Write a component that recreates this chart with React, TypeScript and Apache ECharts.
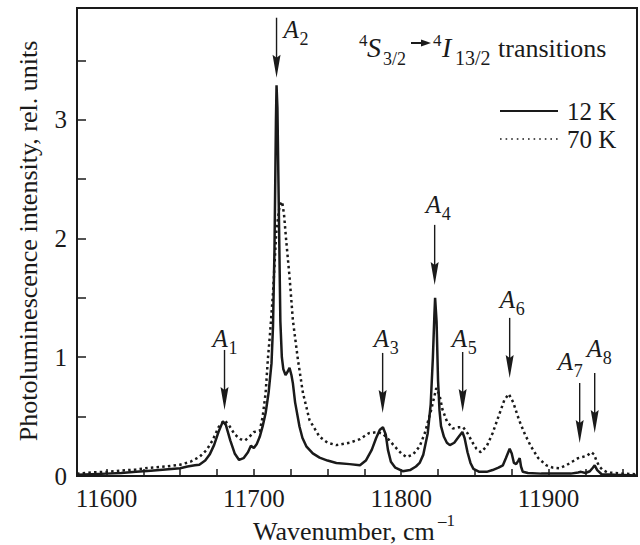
import React, { useEffect, useRef } from 'react';
import * as echarts from 'echarts';

// 12 K spectrum (solid)
const wn12 = [
  11580, 11590, 11600, 11610, 11620, 11630, 11640, 11650, 11655, 11660, 11663, 11667, 11670, 11673, 11676, 11679,
  11681, 11684, 11687, 11690, 11693, 11696, 11698, 11700, 11702, 11704, 11706, 11708, 11710, 11712, 11713, 11714,
  11715, 11715.4, 11716, 11717, 11718, 11719, 11720, 11721.5, 11723, 11724.2, 11725.5, 11726.5, 11728, 11731, 11733,
  11735.6, 11740, 11744.6, 11750, 11756, 11765, 11772, 11776, 11780, 11783, 11785.5, 11787.6, 11789.5, 11791, 11793,
  11796, 11801, 11806, 11810, 11812.5, 11815, 11818, 11820, 11821.5, 11822.5, 11823, 11824, 11825, 11826, 11827,
  11829, 11831, 11833, 11836, 11839, 11841.5, 11843, 11845, 11847, 11849, 11853, 11858, 11862, 11866, 11869, 11871,
  11873.6, 11875, 11876.5, 11878, 11879.5, 11880.4, 11881.3, 11882.5, 11886, 11895, 11905, 11915, 11920, 11922,
  11925, 11928, 11930, 11931.3, 11933, 11936, 11945, 11960,
];
const int12 = [
  0.01, 0.015, 0.02, 0.025, 0.035, 0.045, 0.055, 0.065, 0.08, 0.09, 0.095, 0.13, 0.18, 0.26, 0.37, 0.46,
  0.43, 0.3, 0.19, 0.135, 0.15, 0.2, 0.255, 0.235, 0.27, 0.33, 0.42, 0.53, 0.7, 0.95, 1.26, 1.9,
  3.0, 3.29, 3.1, 2.2, 1.3, 1.0, 0.9, 0.85, 0.88, 0.91, 0.85, 0.78, 0.62, 0.415, 0.32,
  0.25, 0.19, 0.155, 0.13, 0.11, 0.1, 0.09, 0.13, 0.22, 0.32, 0.39, 0.41, 0.35, 0.22, 0.12,
  0.07, 0.04, 0.05, 0.08, 0.11, 0.18, 0.36, 0.6, 1.0, 1.35, 1.5, 1.3, 0.8, 0.55, 0.42,
  0.33, 0.28, 0.26, 0.28, 0.33, 0.37, 0.32, 0.2, 0.11, 0.06, 0.035, 0.035, 0.05, 0.07, 0.09, 0.15,
  0.23, 0.19, 0.11, 0.1, 0.13, 0.15, 0.08, 0.035, 0.025, 0.02, 0.02, 0.02, 0.03, 0.035,
  0.025, 0.04, 0.07, 0.09, 0.05, 0.015, 0.01, 0.005,
];

// 70 K spectrum (dotted)
const wn70 = [
  11580, 11590, 11600, 11610, 11620, 11630, 11640, 11650, 11657, 11663, 11668, 11672, 11676, 11680, 11683, 11687,
  11691, 11694, 11697, 11700, 11704, 11706, 11708, 11709.5, 11711, 11713, 11715.2, 11717.4, 11719.2, 11720.5,
  11721.9, 11724.2, 11726.5, 11729.9, 11733.3, 11737.8, 11744.6, 11750, 11756, 11765, 11772, 11778, 11784, 11788,
  11792, 11795.5, 11800, 11803.5, 11808, 11812.5, 11816, 11820.4, 11823.8, 11826, 11828, 11831, 11835, 11839, 11842,
  11845, 11848.5, 11851, 11854, 11858, 11862, 11866, 11870, 11873, 11876, 11880, 11884, 11888, 11893, 11898.5,
  11903, 11907.5, 11912, 11916, 11920, 11923, 11926, 11929, 11931, 11932.4, 11934.5, 11936.7, 11940, 11950, 11960,
];
const int70 = [
  0.02, 0.03, 0.035, 0.045, 0.055, 0.07, 0.08, 0.095, 0.12, 0.16, 0.22, 0.3, 0.41, 0.47, 0.43, 0.35,
  0.31, 0.3, 0.33, 0.37, 0.38, 0.5, 0.7, 0.98, 1.2, 1.54, 2.05, 2.27, 2.31, 2.2,
  1.99, 1.68, 1.31, 0.98, 0.7, 0.47, 0.33, 0.28, 0.26, 0.28, 0.31, 0.36, 0.37, 0.35,
  0.3, 0.25, 0.19, 0.16, 0.18, 0.25, 0.36, 0.56, 0.74, 0.68, 0.56, 0.46, 0.4, 0.41, 0.41,
  0.36, 0.28, 0.23, 0.2, 0.25, 0.36, 0.5, 0.64, 0.69, 0.62, 0.47, 0.35, 0.25, 0.15, 0.09,
  0.07, 0.065, 0.09, 0.12, 0.15, 0.16, 0.17, 0.2, 0.18, 0.13, 0.08, 0.05, 0.03, 0.02, 0.015,
];

const xLabelValues = [11600, 11700, 11800, 11900];
const xTickValues = [11600, 11625, 11650, 11675, 11700, 11725, 11750, 11775, 11800, 11825, 11850, 11875, 11900, 11925, 11950];
const yLabelValues = [0, 1, 2, 3];
const yTickValues = [0, 0.5, 1, 1.5, 2, 2.5, 3, 3.5];

// Peak annotations: subscript, position (cm^-1), arrow tip height (rel. units)
const peakNames = ['1', '2', '3', '4', '5', '6', '7', '8'];
const peakPos = [11680.1, 11715.4, 11787.4, 11822.7, 11841.7, 11873.6, 11921.1, 11931.3];
const arrowTip = [0.556, 3.353, 0.531, 1.609, 0.539, 0.826, 0.278, 0.362];

// label placement (layout only): offset of "A" left edge / baseline relative to arrow tip, px
const labelOffsets = [[-12, -63], [7, -40], [-9, -66], [-9, -72], [-11, -65], [-10, -70], [-22, -73], [-8, -76]];

const FONT = '"Liberation Serif", "Times New Roman", serif';
const INK = '#1a1a1a';

function txt(text: string, x: number, baseline: number, size: number, italic = false, align = 'left') {
  return {
    type: 'text',
    x,
    y: baseline - 0.3375 * size,
    silent: true,
    style: {
      text,
      font: `${italic ? 'italic ' : ''}${size}px ${FONT}`,
      fill: INK,
      textAlign: align,
      align,
      textVerticalAlign: 'middle',
      verticalAlign: 'middle',
    },
  };
}

export default function App() {
  const ref = useRef<HTMLDivElement>(null);
  useEffect(() => {
    if (!ref.current) return;
    const chart = echarts.init(ref.current, null, { renderer: 'svg' });
    const option: any = {
      animation: false,
      backgroundColor: '#ffffff',
      grid: {
        left: 77,
        right: 3,
        top: 8,
        bottom: 69,
        show: true,
        borderColor: INK,
        borderWidth: 2,
        backgroundColor: 'transparent',
      },
      xAxis: {
        type: 'value',
        min: 11580,
        max: 11960,
        axisLine: { show: true, lineStyle: { color: INK, width: 2 } },
        axisTick: { show: true, inside: true, length: 7, customValues: xTickValues, lineStyle: { color: INK, width: 1.5 } },
        axisLabel: {
          show: true,
          customValues: xLabelValues,
          margin: 10,
          color: INK,
          fontFamily: FONT,
          fontSize: 25,
          formatter: (v: number) => String(v),
        },
        splitLine: { show: false },
      },
      yAxis: {
        type: 'value',
        min: 0,
        max: 3.94,
        axisLine: { show: true, lineStyle: { color: INK, width: 2 } },
        axisTick: { show: true, inside: true, length: 9, customValues: yTickValues, lineStyle: { color: INK, width: 1.5 } },
        axisLabel: {
          show: true,
          customValues: yLabelValues,
          margin: 10,
          color: INK,
          fontFamily: FONT,
          fontSize: 25,
          formatter: (v: number) => String(v),
        },
        splitLine: { show: false },
      },
      series: [
        {
          name: '70 K',
          type: 'line',
          data: wn70.map((x, i) => [x, int70[i]]),
          showSymbol: false,
          smooth: false,
          clip: true,
          lineStyle: { color: INK, width: 2.5, type: [2.5, 3.2], cap: 'butt' },
          z: 2,
        },
        {
          name: '12 K',
          type: 'line',
          data: wn12.map((x, i) => [x, int12[i]]),
          showSymbol: false,
          smooth: false,
          clip: true,
          lineStyle: { color: INK, width: 2.5 },
          z: 3,
        },
      ],
    };
    chart.setOption(option);

    const g: any[] = [];
    peakPos.forEach((p, i) => {
      const pt = chart.convertToPixel({ gridIndex: 0 }, [p, arrowTip[i]]) as number[];
      const tx = pt[0];
      const ty = pt[1];
      g.push({
        type: 'line',
        silent: true,
        shape: { x1: tx, y1: ty - 60, x2: tx, y2: ty - 18 },
        style: { stroke: INK, lineWidth: 1.4 },
      });
      g.push({
        type: 'polygon',
        silent: true,
        shape: { points: [[tx - 4, ty - 23], [tx, ty - 20], [tx + 4, ty - 23], [tx, ty]] },
        style: { fill: INK },
      });
      const lx = tx + labelOffsets[i][0];
      const by = ty + labelOffsets[i][1];
      g.push(txt('A', lx, by, 25, true));
      g.push(txt(peakNames[i], lx + 16, by + 7, 18));
    });

    // title: 4S3/2 -> 4I13/2 transitions
    g.push(txt('4', 359, 46, 17));
    g.push(txt('S', 367, 57, 28, true));
    g.push(txt('3/2', 383, 65, 18));
    g.push({ type: 'line', silent: true, shape: { x1: 411, y1: 43, x2: 423, y2: 43 }, style: { stroke: INK, lineWidth: 2 } });
    g.push({ type: 'polygon', silent: true, shape: { points: [[421, 39.5], [431, 43], [421, 46.5]] }, style: { fill: INK } });
    g.push(txt('4', 433, 46, 17));
    g.push(txt('I', 442, 57, 28, true));
    g.push(txt('13/2', 455, 65, 20));
    g.push(txt('transitions', 498, 57, 26));

    // legend
    g.push({ type: 'line', silent: true, shape: { x1: 500, y1: 111, x2: 558, y2: 111 }, style: { stroke: INK, lineWidth: 2 } });
    g.push(txt('12 K', 567, 120, 25));
    g.push({ type: 'line', silent: true, shape: { x1: 500, y1: 139, x2: 558, y2: 139 }, style: { stroke: INK, lineWidth: 1.6, lineDash: [1.6, 4] } });
    g.push(txt('70 K', 567, 147.5, 25));

    // axis titles
    g.push(txt('Wavenumber, cm', 253, 540, 26));
    g.push(txt('\u20131', 438, 526, 17));
    g.push({
      type: 'text',
      x: 28,
      y: 241,
      rotation: Math.PI / 2,
      silent: true,
      style: {
        text: 'Photoluminescence intensity, rel. units',
        font: `26px ${FONT}`,
        fill: INK,
        textAlign: 'center',
        align: 'center',
        textVerticalAlign: 'middle',
        verticalAlign: 'middle',
      },
    });

    chart.setOption({ graphic: { elements: g } });
    return () => chart.dispose();
  }, []);

  return <div ref={ref} style={{ position: 'absolute', left: 0, top: 0, width: 640, height: 545 }} />;
}
